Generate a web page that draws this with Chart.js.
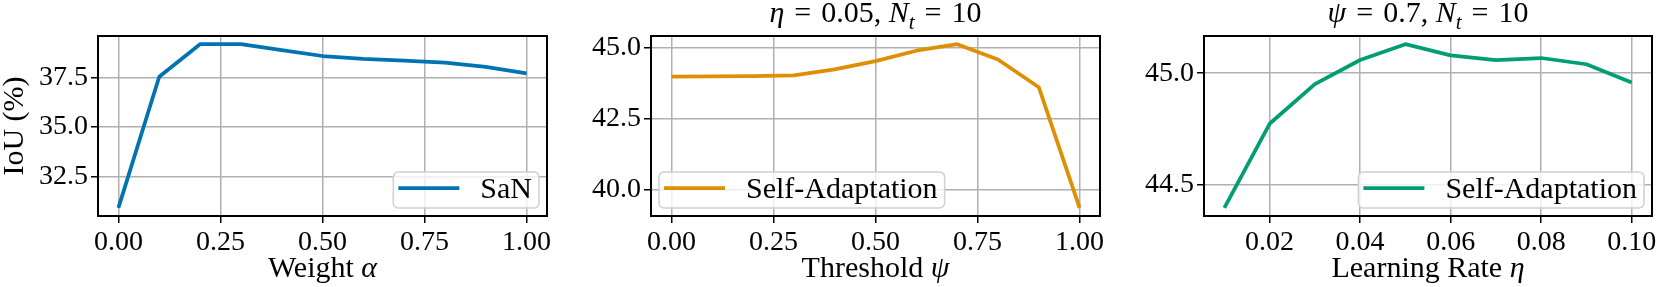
<!DOCTYPE html>
<html>
<head>
<meta charset="utf-8">
<script src="https://cdn.jsdelivr.net/npm/chart.js@4.4.0/dist/chart.umd.min.js"></script>
<style>
  html, body { margin: 0; padding: 0; background: #fff; }
  #wrap { position: relative; width: 1660px; height: 287px; overflow: hidden; }
  #wrap canvas { position: absolute; left: 0; top: 0; }
</style>
</head>
<body>
<div id="wrap">
  <canvas id="c1" width="1660" height="287"></canvas>
  <canvas id="c2" width="1660" height="287"></canvas>
  <canvas id="c3" width="1660" height="287"></canvas>
</div>
<script>
// --- data ---
const weightAlpha = [0.0, 0.1, 0.2, 0.3, 0.4, 0.5, 0.6, 0.7, 0.8, 0.9, 1.0];
const sanIoU = [30.9, 37.55, 39.2, 39.2, 38.9, 38.6, 38.46, 38.37, 38.27, 38.05, 37.72];

const thresholdPsi = [0.0, 0.1, 0.2, 0.3, 0.4, 0.5, 0.6, 0.7, 0.8, 0.9, 1.0];
const psiIoU = [43.98, 43.99, 44.0, 44.03, 44.24, 44.53, 44.9, 45.13, 44.59, 43.61, 39.35];

const learningRate = [0.01, 0.02, 0.03, 0.04, 0.05, 0.06, 0.07, 0.08, 0.09, 0.10];
const etaIoU = [44.396, 44.773, 44.951, 45.059, 45.13, 45.08, 45.059, 45.068, 45.04, 44.958];

const xTicksUnit = [0, 0.25, 0.5, 0.75, 1.0];
const xTicksEta = [0.02, 0.04, 0.06, 0.08, 0.10];
const yTicksSan = [32.5, 35.0, 37.5];
const yTicksPsi = [40.0, 42.5, 45.0];
const yTicksEta = [44.5, 45.0];

const FONT = '"Liberation Serif", "DejaVu Serif", serif';
const TICK_FS = 28;   // tick labels
const FS = 30;        // titles, axis labels, legend
const YW = 70, XH = 40; // fixed axis sizes so the plot boxes line up

// matplotlib-style 5% margins
function withMargin(arr) {
    const lo = Math.min(...arr), hi = Math.max(...arr);
    const m = (hi - lo) * 0.05;
    return [lo - m, hi + m];
}

function fontOf(p, size) {
    return (p.i ? 'italic ' : '') + (p.sub ? Math.round(size * 0.7) : size) + 'px ' + FONT;
}

function drawRich(ctx, parts, cx, y, size) {
    let w = 0;
    parts.forEach(p => { ctx.font = fontOf(p, size); w += ctx.measureText(p.t).width; });
    let x = cx - w / 2;
    ctx.textAlign = 'left';
    parts.forEach(p => {
        ctx.font = fontOf(p, size);
        ctx.fillText(p.t, x, y + (p.sub ? size * 0.22 : 0));
        x += ctx.measureText(p.t).width;
    });
}

// frame, titles, axis labels and the in-axes legend
const panelDeco = {
    id: 'panelDeco',
    afterDraw(chart, args, o) {
        const ctx = chart.ctx, a = chart.chartArea;
        const cx = (a.left + a.right) / 2;
        ctx.save();
        ctx.strokeStyle = '#000';
        ctx.lineWidth = 2;
        ctx.strokeRect(a.left, a.top, a.right - a.left, a.bottom - a.top);

        ctx.fillStyle = '#000';
        ctx.textBaseline = 'alphabetic';
        if (o.title) drawRich(ctx, o.title, cx, 22, FS);
        drawRich(ctx, o.xlabel, cx, 277, FS);
        if (o.ylabel) {
            ctx.save();
            ctx.translate(15, (a.top + a.bottom) / 2);
            ctx.rotate(-Math.PI / 2);
            ctx.textBaseline = 'middle';
            drawRich(ctx, o.ylabel, 0, 0, FS);
            ctx.restore();
        }

        // legend
        const ds = chart.data.datasets[0];
        ctx.font = FS + 'px ' + FONT;
        const tw = ctx.measureText(ds.label).width;
        const w = 5 + 61 + 21 + tw + 7, h = 36;
        const x = o.legendCorner === 'bl' ? a.left + 8 : a.right - 8 - w;
        const y = a.bottom - 8 - h;
        ctx.beginPath();
        ctx.roundRect(x, y, w, h, 5);
        ctx.fillStyle = 'rgba(255,255,255,0.8)';
        ctx.fill();
        ctx.strokeStyle = '#d0d0d0';
        ctx.lineWidth = 1.5;
        ctx.stroke();

        ctx.beginPath();
        ctx.moveTo(x + 5, y + h / 2 - 2);
        ctx.lineTo(x + 66, y + h / 2 - 2);
        ctx.strokeStyle = ds.borderColor;
        ctx.lineWidth = ds.borderWidth;
        ctx.stroke();

        ctx.fillStyle = '#000';
        ctx.textAlign = 'left';
        ctx.textBaseline = 'middle';
        ctx.fillText(ds.label, x + 87, y + h / 2);
        ctx.restore();
    }
};

function axis(range, ticks, dec, isX) {
    return {
        type: 'linear',
        min: range[0],
        max: range[1],
        afterBuildTicks: s => { s.ticks = ticks.map(v => ({ value: v })); },
        afterFit: s => {
            if (isX) { s.height = XH; s.paddingLeft = 0; s.paddingRight = 0; }
            else { s.width = YW; s.paddingTop = 0; s.paddingBottom = 0; }
        },
        ticks: {
            callback: v => Number(v).toFixed(dec),
            autoSkip: false,
            maxRotation: 0,
            padding: 3,
            color: '#000',
            font: { size: TICK_FS, family: FONT }
        },
        grid: { color: '#b0b0b0', lineWidth: 1.5, tickLength: 7, tickColor: '#000', tickWidth: 1.5 },
        border: { display: true, color: '#000', width: 2 },
        title: { display: false }
    };
}

function makePanel(id, box, xs, ys, opt) {
    new Chart(document.getElementById(id), {
        type: 'line',
        data: {
            datasets: [{
                label: opt.label,
                data: xs.map((x, i) => ({ x: x, y: ys[i] })),
                borderColor: opt.color,
                borderWidth: 3.75,
                pointRadius: 0,
                tension: 0,
                fill: false,
                borderJoinStyle: 'round'
            }]
        },
        options: {
            responsive: false,
            animation: false,
            devicePixelRatio: 1,
            layout: {
                padding: { left: box.l - YW, top: box.t, right: 1660 - box.r, bottom: 287 - box.b - XH }
            },
            scales: {
                x: axis(withMargin(xs), opt.xTicks, 2, true),
                y: axis(withMargin(ys), opt.yTicks, 1, false)
            },
            plugins: {
                legend: { display: false },
                tooltip: { enabled: false },
                panelDeco: {
                    title: opt.title,
                    xlabel: opt.xlabel,
                    ylabel: opt.ylabel,
                    legendCorner: opt.legendCorner
                }
            }
        },
        plugins: [panelDeco]
    });
}

const EQ = '\u2004=\u2004';

makePanel('c1', { l: 98, r: 547, t: 36, b: 216 }, weightAlpha, sanIoU, {
    label: 'SaN', color: '#0173B2', xTicks: xTicksUnit, yTicks: yTicksSan,
    xlabel: [{ t: 'Weight ' }, { t: 'α', i: true }],
    ylabel: [{ t: 'IoU (%)' }],
    legendCorner: 'br'
});

makePanel('c2', { l: 651, r: 1100, t: 36, b: 216 }, thresholdPsi, psiIoU, {
    label: 'Self-Adaptation', color: '#DE8F05', xTicks: xTicksUnit, yTicks: yTicksPsi,
    title: [{ t: 'η', i: true }, { t: EQ + '0.05, ' }, { t: 'N', i: true }, { t: 't', i: true, sub: true }, { t: EQ + '10' }],
    xlabel: [{ t: 'Threshold ' }, { t: 'ψ', i: true }],
    legendCorner: 'bl'
});

makePanel('c3', { l: 1204, r: 1652, t: 36, b: 216 }, learningRate, etaIoU, {
    label: 'Self-Adaptation', color: '#029E73', xTicks: xTicksEta, yTicks: yTicksEta,
    title: [{ t: 'ψ', i: true }, { t: EQ + '0.7, ' }, { t: 'N', i: true }, { t: 't', i: true, sub: true }, { t: EQ + '10' }],
    xlabel: [{ t: 'Learning Rate ' }, { t: 'η', i: true }],
    legendCorner: 'br'
});
</script>
</body>
</html>
